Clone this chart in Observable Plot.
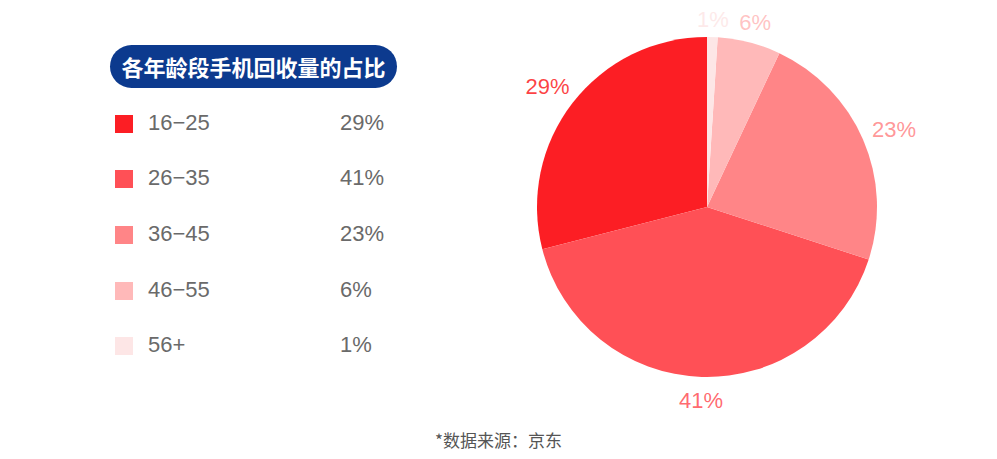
<!DOCTYPE html>
<html>
<head>
<meta charset="utf-8">
<script src="https://cdn.jsdelivr.net/npm/d3@7"></script>
<script src="https://cdn.jsdelivr.net/npm/@observablehq/plot@0.6"></script>
<style>
  html, body { margin: 0; padding: 0; background: #fff; }
  #wrap { position: relative; width: 997px; height: 459px; font-family: "Liberation Sans", "Noto Sans CJK SC", sans-serif; }
  #chart { position: absolute; left: 0; top: 0; }
  #title { position: absolute; left: 110px; top: 45px; width: 287px; height: 43px; border-radius: 22px; background: #0c3a8e; color: #fff; font-family: "Noto Sans CJK SC", sans-serif; font-weight: bold; font-size: 22px; line-height: 43px; text-align: center; }
  .row { position: absolute; left: 115px; height: 24px; font-size: 22px; color: #6a6a6a; }
  .sw { position: absolute; left: 0; top: 3px; width: 18px; height: 18px; }
  .lab { position: absolute; left: 33px; top: -1px; line-height: 24px; white-space: nowrap; }
  .val { position: absolute; left: 225px; top: -1px; line-height: 24px; white-space: nowrap; }
  #caption { position: absolute; left: 0; width: 997px; top: 427px; text-align: center; font-family: "Noto Sans CJK SC", sans-serif; font-size: 17px; color: #555; }
</style>
</head>
<body>
<div id="wrap">
  <div id="chart"></div>
  <div id="title"></div>
  <div id="legend"></div>
  <div id="caption"></div>
</div>
<script>
const titleText = "各年龄段手机回收量的占比";
const captionText = "*数据来源：京东";
const ages = ["16-25", "26-35", "36-45", "46-55", "56+"];
const shares = [29, 41, 23, 6, 1];
const colors = ["#fc1e24", "#ff5056", "#ff8587", "#ffb9b9", "#fde6e6"];

const data = ages.map((a, i) => ({age: a, share: shares[i]}));
const color = Plot.scale({color: {type: "ordinal", domain: ages, range: colors}});

document.getElementById("title").textContent = titleText;
document.getElementById("caption").textContent = captionText;

const legend = document.getElementById("legend");
const rowTops = [112, 167, 223, 279, 334];
data.forEach((d, i) => {
  const row = document.createElement("div");
  row.className = "row";
  row.style.top = rowTops[i] + "px";
  row.innerHTML = `<div class="sw" style="background:${color.apply(d.age)}"></div><div class="lab">${d.age.replace("-", "−")}</div><div class="val">${d.share}%</div>`;
  legend.appendChild(row);
});

const cx = 707, cy = 207, R = 170;
const pie = d3.pie().value(d => d.share).sort(null).startAngle(0).endAngle(-2 * Math.PI);
const arcs = pie(data);
const arcGen = d3.arc().innerRadius(0).outerRadius(R);

const pieMark = (index, scales, values, dimensions, context) => {
  const g = d3.create("svg:g").attr("transform", `translate(${cx},${cy})`);
  g.selectAll("path").data(arcs).join("path")
    .attr("d", arcGen)
    .attr("fill", a => color.apply(a.data.age));
  g.selectAll("text").data(arcs).join("text")
    .attr("x", a => { const m = (a.startAngle + a.endAngle) / 2; const r = 190 + 15 * Math.abs(Math.sin(m)); return r * Math.sin(m); })
    .attr("y", a => { const m = (a.startAngle + a.endAngle) / 2; const r = 190 + 15 * Math.abs(Math.sin(m)); return -r * Math.cos(m) + 3; })
    .attr("text-anchor", "middle")
    .attr("dominant-baseline", "central")
    .attr("font-family", "Liberation Sans, sans-serif")
    .attr("font-size", 22)
    .attr("fill", a => color.apply(a.data.age))
    .attr("fill-opacity", 0.85)
    .text(a => a.data.share + "%");
  return g.node();
};

const plot = Plot.plot({
  width: 997,
  height: 420,
  margin: 0,
  x: {axis: null},
  y: {axis: null},
  marks: [pieMark]
});
document.getElementById("chart").appendChild(plot);
</script>
</body>
</html>
